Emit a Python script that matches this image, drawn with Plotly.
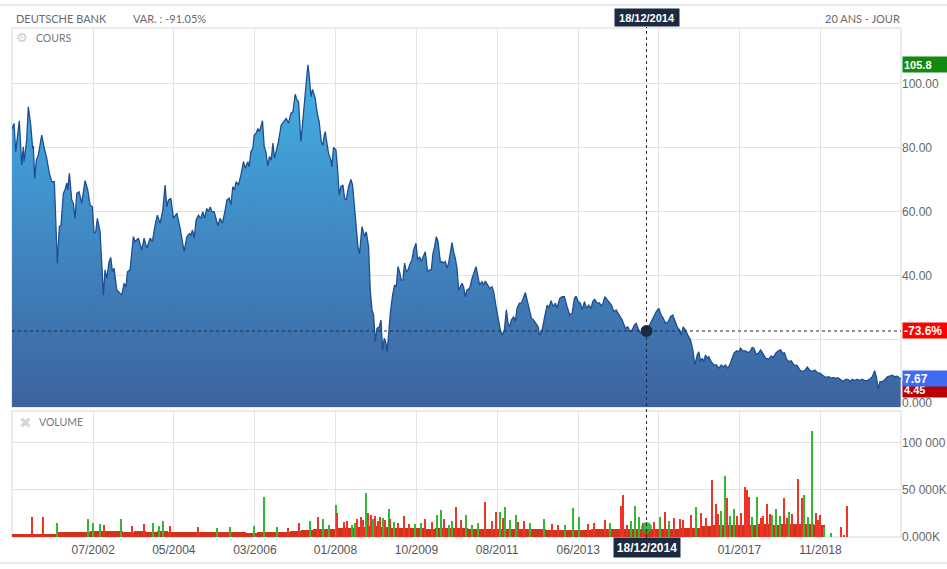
import plotly.graph_objects as go

# ---------------- DATA ----------------
# price (decimal year, value)
years = [2000.676,2000.721,2000.759,2000.795,2000.840,2000.894,2000.930,2000.946,2001.006,2001.042,
2001.096,2001.141,2001.155,2001.186,2001.222,2001.267,2001.343,2001.402,2001.456,2001.514,
2001.568,2001.627,2001.658,2001.694,2001.739,2001.777,2001.829,2001.867,2001.905,2001.928,
2001.964,2002.018,2002.054,2002.092,2002.130,2002.182,2002.242,2002.317,2002.377,2002.429,
2002.481,2002.519,2002.557,2002.593,2002.654,2002.692,2002.728,2002.766,2002.804,2002.856,
2002.894,2002.930,2002.968,2003.029,2003.103,2003.141,2003.193,2003.238,2003.267,2003.328,
2003.402,2003.440,2003.514,2003.591,2003.642,2003.703,2003.777,2003.829,2003.890,2003.941,
2004.002,2004.063,2004.114,2004.153,2004.189,2004.243,2004.301,2004.377,2004.452,2004.541,
2004.602,2004.660,2004.699,2004.728,2004.766,2004.811,2004.863,2004.917,2004.962,2004.998,
2005.051,2005.088,2005.126,2005.164,2005.216,2005.254,2005.299,2005.350,2005.402,2005.463,
2005.501,2005.553,2005.591,2005.636,2005.672,2005.710,2005.762,2005.816,2005.874,2005.912,
2005.973,2006.002,2006.040,2006.085,2006.114,2006.159,2006.198,2006.234,2006.301,2006.339,
2006.377,2006.422,2006.458,2006.497,2006.535,2006.571,2006.624,2006.660,2006.721,2006.773,
2006.834,2006.885,2006.939,2006.984,2007.036,2007.074,2007.110,2007.164,2007.222,2007.276,
2007.321,2007.350,2007.389,2007.425,2007.485,2007.537,2007.575,2007.620,2007.658,2007.688,
2007.710,2007.748,2007.784,2007.838,2007.860,2007.897,2007.950,2007.986,2008.024,2008.063,
2008.108,2008.144,2008.182,2008.234,2008.288,2008.324,2008.368,2008.400,2008.445,2008.481,
2008.535,2008.594,2008.632,2008.683,2008.721,2008.760,2008.796,2008.834,2008.872,2008.924,
2008.962,2008.998,2009.036,2009.074,2009.097,2009.133,2009.171,2009.223,2009.267,2009.306,
2009.344,2009.380,2009.418,2009.456,2009.492,2009.530,2009.568,2009.620,2009.658,2009.694,
2009.748,2009.784,2009.829,2009.867,2009.919,2009.957,2010.009,2010.054,2010.092,2010.130,
2010.166,2010.205,2010.243,2010.294,2010.333,2010.369,2010.407,2010.445,2010.481,2010.519,
2010.557,2010.593,2010.632,2010.670,2010.706,2010.744,2010.782,2010.818,2010.856,2010.894,
2010.953,2011.007,2011.042,2011.096,2011.132,2011.177,2011.231,2011.267,2011.306,2011.357,
2011.402,2011.456,2011.492,2011.546,2011.591,2011.643,2011.681,2011.733,2011.778,2011.816,
2011.852,2011.890,2011.942,2011.980,2012.018,2012.070,2012.115,2012.167,2012.205,2012.243,
2012.295,2012.340,2012.391,2012.445,2012.490,2012.526,2012.580,2012.639,2012.693,2012.729,
2012.783,2012.828,2012.879,2012.917,2012.976,2013.030,2013.081,2013.142,2013.201,2013.254,
2013.306,2013.344,2013.389,2013.441,2013.479,2013.531,2013.576,2013.627,2013.681,2013.717,
2013.762,2013.816,2013.868,2013.913,2013.951,2013.987,2014.025,2014.077,2014.138,2014.190,
2014.244,2014.302,2014.378,2014.452,2014.504,2014.549,2014.603,2014.654,2014.692,2014.738,
2014.789,2014.864,2014.925,2015.014,2015.088,2015.142,2015.200,2015.254,2015.299,2015.351,
2015.412,2015.463,2015.515,2015.560,2015.614,2015.666,2015.704,2015.749,2015.800,2015.852,
2015.913,2015.965,2016.010,2016.064,2016.100,2016.138,2016.176,2016.212,2016.250,2016.288,
2016.324,2016.378,2016.437,2016.497,2016.549,2016.603,2016.647,2016.699,2016.751,2016.796,
2016.850,2016.886,2016.947,2016.999,2017.036,2017.088,2017.149,2017.201,2017.245,2017.299,
2017.335,2017.389,2017.434,2017.486,2017.538,2017.598,2017.672,2017.726,2017.771,2017.823,
2017.884,2017.935,2017.987,2018.025,2018.070,2018.121,2018.175,2018.234,2018.310,2018.369,
2018.423,2018.475,2018.535,2018.587,2018.647,2018.706,2018.760,2018.818,2018.872,2018.946,
2019.020,2019.074,2019.119,2019.171,2019.222,2019.283,2019.344,2019.394,2019.447,2019.492,
2019.546,2019.598,2019.658,2019.711,2019.771,2019.823,2019.883,2019.935,2019.996,2020.048,
2020.086,2020.129,2020.167,2020.220,2020.271,2020.332,2020.391,2020.450,2020.496,2020.557,
2020.632]

prices = [85.7,87.5,78.6,82.8,88.3,74.5,80.2,75.5,82.3,92.7,
87.0,79.7,80.4,70.3,76.0,77.6,83.8,79.7,76.6,71.9,
69.3,69.3,58.3,43.8,55.2,55.7,65.6,66.7,68.8,66.7,
71.9,63.5,62.5,57.8,65.6,66.1,62.5,69.6,66.7,62.0,
61.4,53.1,53.6,57.8,53.6,43.8,33.8,41.7,39.0,44.3,
45.6,41.1,42.2,35.4,34.4,33.8,37.5,36.4,41.1,41.7,
52.1,50.5,51.6,47.9,51.6,48.4,51.6,50.5,55.7,58.8,
56.3,60.4,68.2,61.4,63.5,64.1,57.8,59.4,54.7,47.4,
52.0,53.1,52.6,54.2,51.6,57.3,58.8,57.8,59.9,57.8,
60.9,59.9,61.4,59.9,59.9,57.8,55.5,57.8,56.3,60.4,
63.5,64.1,62.0,67.7,66.7,69.3,68.2,71.3,75.5,73.4,
75.5,73.9,78.6,79.7,83.8,84.4,85.9,84.9,88.3,80.4,
78.6,74.2,77.1,76.0,81.3,76.6,79.2,81.8,87.0,88.0,
89.0,87.5,90.6,91.1,96.6,94.8,94.3,81.8,91.7,100.5,
105.8,102.6,95.8,98.1,95.3,90.1,88.0,81.8,80.7,83.8,
84.9,81.3,78.1,76.0,73.9,80.0,79.2,73.4,65.1,67.7,
68.2,64.1,63.5,67.7,70.0,68.2,60.4,54.7,48.9,46.7,
55.2,52.1,53.6,48.9,35.4,29.2,27.6,19.3,23.4,23.9,
26.0,16.7,20.3,18.8,16.0,21.3,28.1,33.8,37.0,36.4,
42.7,41.1,38.5,38.5,43.8,41.1,41.7,43.8,44.8,47.9,
50.0,44.8,45.8,44.3,45.8,47.4,41.1,41.7,41.7,46.9,
48.9,52.1,50.5,44.3,44.3,43.8,44.3,42.2,43.8,47.9,
50.2,47.4,45.3,42.2,35.4,36.4,37.5,36.4,33.3,35.4,
35.9,39.0,40.6,42.7,40.1,37.0,38.0,37.0,38.2,37.0,
35.9,36.4,34.9,30.2,26.6,22.9,21.3,22.9,29.2,25.0,
23.9,26.0,27.1,25.5,29.7,31.3,31.3,33.3,34.6,32.3,
29.2,26.6,26.0,25.0,23.9,21.3,22.9,27.1,30.7,29.7,
32.1,30.2,31.3,29.7,32.8,33.3,33.3,30.2,27.6,28.1,
32.8,33.5,31.8,31.3,29.2,31.8,29.7,30.7,29.7,31.8,
32.5,31.3,31.4,30.4,31.3,33.3,32.8,31.8,30.7,28.6,
29.2,27.6,26.0,23.4,23.9,22.4,22.9,24.5,25.0,23.4,
21.9,22.4,22.6,25.0,27.1,28.6,29.7,27.6,26.6,25.0,
25.5,27.1,27.6,26.0,23.9,22.9,21.3,23.9,22.9,21.3,
19.8,16.7,12.0,15.1,16.1,13.0,14.1,13.0,15.1,14.1,
14.6,13.0,12.0,12.0,10.9,12.0,11.4,12.0,10.9,12.0,
13.8,15.6,16.4,16.1,17.2,16.4,16.4,15.9,16.1,17.5,
17.2,15.3,15.6,16.7,15.6,14.1,13.8,14.8,14.3,15.6,
16.4,16.7,15.6,15.8,13.8,13.0,13.3,12.0,11.8,10.4,
9.9,10.2,11.3,10.4,9.9,10.4,9.6,9.4,8.8,8.1,
8.3,7.8,8.1,7.8,8.0,7.3,6.8,7.5,7.5,6.8,
7.5,7.1,7.5,7.1,7.5,7.1,7.1,7.5,8.3,10.2,
8.3,4.45,6.8,6.8,7.3,8.3,8.5,8.8,8.3,8.5,
7.67]

# volume: quarterly base level (K), first quarter centred at 2000.80
vol_base_start = 2000.80
vol_base_step = 0.25
vol_base = [3.5,3.0,3.5,3.0,5.5,5.5,5.0,6.0,6.5,6.0,
5.5,6.0,5.5,6.0,5.0,5.0,5.5,5.0,5.0,5.5,
5.0,4.5,5.0,5.5,5.0,6.5,7.5,8.0,8.0,10.0,
10.0,11.0,11.5,11.0,10.0,9.5,9.5,9.0,9.5,10.0,
9.5,9.0,8.5,9.0,8.5,8.0,8.0,8.0,7.5,7.0,
7.0,7.5,8.0,8.5,8.0,8.5,8.0,8.5,9.0,9.0,
9.5,10.0,12.0,13.0,13.0,12.5,13.0,13.5,13.0,13.5,
14.0,14.0,13.0]
vol_base = [v * 1000 for v in vol_base]

# volume spikes (decimal year, K volume, up day?)
spike_years = [2001.132,2001.379,2001.681,2002.391,2002.490,2002.654,2002.750,2003.126,2003.366,2003.642,
2003.851,2003.980,2004.076,2004.227,2004.863,2005.276,2005.575,2006.114,2006.324,2006.638,
2006.863,2007.110,2007.373,2007.537,2007.649,2007.784,2007.957,2007.985,2008.121,2008.310,
2008.422,2008.512,2008.632,2008.665,2008.737,2008.834,2008.946,2009.007,2009.133,2009.171,
2009.486,2009.733,2009.957,2010.220,2010.317,2010.369,2010.481,2010.654,2010.879,2011.007,
2011.306,2011.546,2011.643,2011.755,2011.995,2012.167,2012.632,2012.931,2013.268,2013.403,
2013.739,2013.987,2014.355,2014.400,2014.490,2014.661,2014.751,2015.238,2015.351,2015.537,
2015.672,2015.913,2016.041,2016.138,2016.385,2016.475,2016.603,2016.683,2016.737,2016.886,
2016.962,2017.126,2017.171,2017.223,2017.396,2017.486,2017.621,2017.749,2017.823,2018.010,
2018.121,2018.324,2018.407,2018.459,2018.639,2018.722,2018.818,2018.908,2019.059,2019.299,
2019.358,2019.425,
2008.200,2008.380,2008.560,2008.780,2008.900,2009.050,2009.250,2009.350,2009.600,2009.850,
2010.100,2010.550,2010.750,2011.150,2011.450,2011.700,2011.850,2012.050,2012.300,2012.800,
2013.100,2013.600,2014.100,2014.580,2014.850,2015.100,2015.420,2015.750,2016.250,2016.520,
2016.800,2017.050,2017.300,2017.550,2017.700,2017.920,2018.070,2018.200,2018.550,2018.780]
spike_vals = [21,21,14.5,19,14.5,13.8,12.4,19.5,11.7,13.8,
14.5,11.7,17.4,11.7,10.3,9.6,11,11.7,42.9,10.3,
9.6,15.2,17.4,20.9,18.8,12.8,34,25.5,16,12.8,
19.5,20.9,46.5,25.5,23.4,22,21,20,29.4,19.5,
22.7,14,19.5,23.4,29,19,12.8,31.6,23.4,13,
37,26.6,27,31.6,23.4,17,19.5,13,31.2,21.6,
15,18.4,33,44.7,13,33,21.6,21,26.6,20,
19.5,23,31.6,25,60.6,35,28,64.9,42,30,
22,53.5,50,43,43,20,35,23,30,41.5,
27,61.4,42,44.7,112.8,25,23,11,4,11,
2,33,
17,15,18,19,17,18,16,15,14,15,
16,17,18,15,17,20,18,16,15,14,
13,14,15,17,15,16,17,18,20,24,
22,25,21,22,24,22,20,24,21,18]
spike_vals = [v * 1000 for v in spike_vals]
spike_up = [0,0,1,1,1,1,0,1,0,0,
1,1,1,0,0,1,1,1,1,1,
0,0,1,0,1,1,1,0,0,1,
0,0,1,0,0,0,0,1,1,0,
0,1,0,1,1,0,1,0,1,1,
0,0,1,1,1,0,1,0,1,1,
0,0,0,0,0,1,1,1,0,0,
0,0,1,0,0,0,1,1,0,1,
0,0,0,0,1,0,0,1,1,0,
1,0,0,1,1,0,0,1,1,0,
0,0,
0,1,0,1,0,0,1,0,0,1,
0,1,0,1,0,0,1,0,1,0,
1,0,1,1,0,0,1,0,0,0,
1,0,1,0,0,1,0,0,1,0]

x_tickvals = [2002.50,2004.31,2006.13,2007.94,2009.76,2011.57,2013.39,2015.20,2017.01,2018.83]
x_ticktext = ["07/2002","05/2004","03/2006","01/2008","10/2009","08/2011","06/2013","","01/2017","11/2018"]

cross_year = 2014.925
cross_date = "18/12/2014"
cross_price = 22.6
cross_vol = 10000
cross_pct = "-73.6%"
max_price, min_price, last_price = 105.8, 4.45, 7.67
title_name = "DEUTSCHE BANK"
title_var = "VAR. : -91.05%"
title_period = "20 ANS - JOUR"

# ---------------- LAYOUT HELPERS ----------------
W, H = 947, 569
def PX(p): return p / W
def PY(p): return 1 - p / H

X0, X1 = PX(12), PX(901)
P_TOP, P_BOT = PY(28), PY(407)
V_TOP, V_BOT = PY(411), PY(537)
P_RANGE = [-1.16, 117.3]
V_RANGE = [0, 134000]
X_RANGE = [2000.676, 2020.64]

GRID = "#e2e2e2"
NAVY = "#1b2a40"
FONT = "Liberation Sans, Arial, sans-serif"
HFONT = "Lato, Open Sans, sans-serif"

fig = go.Figure()

# baseline for area fill
fig.add_trace(go.Scatter(x=[years[0], years[-1]], y=[P_RANGE[0], P_RANGE[0]],
                         mode="lines", line=dict(width=0), hoverinfo="skip",
                         xaxis="x", yaxis="y", showlegend=False))
fig.add_trace(go.Scatter(x=years, y=prices, mode="lines", fill="tonexty",
                         line=dict(color="#1d4e92", width=1.3),
                         fillgradient=dict(type="vertical", start=P_RANGE[0], stop=106,
                                           colorscale=[[0, "rgba(47,87,152,0.93)"],
                                                       [0.5, "rgba(50,128,190,0.93)"],
                                                       [1, "rgba(53,172,228,0.93)"]]),
                         xaxis="x", yaxis="y", showlegend=False, hoverinfo="skip"))
fig.add_trace(go.Scatter(x=[cross_year], y=[cross_price], mode="markers",
                         marker=dict(size=12, color=NAVY),
                         xaxis="x", yaxis="y", showlegend=False, hoverinfo="skip"))

# volume
base_x = [vol_base_start + i * vol_base_step for i in range(len(vol_base))]
fig.add_trace(go.Bar(x=base_x, y=vol_base, width=vol_base_step,
                     marker=dict(color="#d2321b", line=dict(width=0)),
                     xaxis="x2", yaxis="y2", showlegend=False, hoverinfo="skip"))
fig.add_trace(go.Bar(x=spike_years, y=spike_vals, width=0.045,
                     marker=dict(color=["#34b834" if u else "#ee3328" for u in spike_up],
                                 line=dict(width=0)),
                     xaxis="x2", yaxis="y2", showlegend=False, hoverinfo="skip"))
fig.add_trace(go.Scatter(x=[cross_year], y=[cross_vol], mode="markers",
                         marker=dict(size=11, color="rgba(40,170,40,0.85)"),
                         xaxis="x2", yaxis="y2", showlegend=False, hoverinfo="skip"))

axis_common = dict(range=X_RANGE, domain=[X0, X1], tickvals=x_tickvals,
                   showgrid=True, gridcolor=GRID, gridwidth=1, zeroline=False,
                   showline=False, ticks="", fixedrange=True, automargin=False)

fig.update_layout(
    width=W, height=H, margin=dict(l=0, r=0, t=0, b=0, autoexpand=False),
    paper_bgcolor="white", plot_bgcolor="white", showlegend=False,
    barmode="overlay", bargap=0, hovermode=False,
    xaxis=dict(**axis_common, anchor="y", showticklabels=False),
    xaxis2=dict(**axis_common, anchor="y2", matches="x", ticktext=x_ticktext,
                showticklabels=True, ticklabelstandoff=4,
                tickfont=dict(family=FONT, size=12, color="#555")),
    yaxis=dict(domain=[P_BOT, P_TOP], range=P_RANGE, side="right", anchor="x",
               tickvals=[0, 20, 40, 60, 80, 100], automargin=False, fixedrange=True,
               ticktext=["0.000", "", "40.00", "60.00", "80.00", "100.00"],
               showgrid=True, gridcolor=GRID, zeroline=False, ticks="",
               tickfont=dict(family=FONT, size=12, color="#666")),
    yaxis2=dict(domain=[V_BOT, V_TOP], range=V_RANGE, side="right", anchor="x2",
                tickvals=[0, 50000, 100000], ticktext=["0.000K", "50 000K", "100 000"],
                showgrid=True, gridcolor=GRID, zeroline=False, ticks="", automargin=False,
                fixedrange=True, tickfont=dict(family=FONT, size=12, color="#666")),
)

shapes = [
    dict(type="line", xref="paper", yref="paper", x0=0, x1=1, y0=PY(5), y1=PY(5),
         line=dict(color="#ccd5e0", width=1)),
    dict(type="line", xref="paper", yref="paper", x0=0, x1=1, y0=PY(563), y1=PY(563),
         line=dict(color="#ccd5e0", width=1)),
    dict(type="rect", xref="paper", yref="paper", x0=X0, x1=X1, y0=P_BOT, y1=P_TOP,
         line=dict(color="#d8d8d8", width=1), layer="below"),
    dict(type="rect", xref="paper", yref="paper", x0=X0, x1=X1, y0=V_BOT, y1=V_TOP,
         line=dict(color="#d8d8d8", width=1), layer="below"),
    dict(type="line", xref="x", yref="paper", x0=cross_year, x1=cross_year,
         y0=PY(538), y1=PY(27), line=dict(color=NAVY, width=1, dash="3px,3px")),
    dict(type="line", xref="paper", yref="y", x0=X0, x1=X1, y0=cross_price, y1=cross_price,
         line=dict(color=NAVY, width=1, dash="3px,3px")),
]
fig.update_layout(shapes=shapes)

def box(text, y, color, size=11, w=42):
    return dict(text="<b>%s</b>" % text, x=PX(902), xref="paper", y=y, yref="y",
                xanchor="left", yanchor="middle", showarrow=False, align="left",
                bgcolor=color, font=dict(family=FONT, size=size, color="white"),
                width=w, height=13, borderpad=1)

ann = [
    dict(text=title_name, x=PX(14), y=PY(19), xref="paper", yref="paper", xanchor="left",
         yanchor="middle", showarrow=False, font=dict(family=HFONT, size=11, color="#6a6a6a")),
    dict(text=title_var, x=PX(131), y=PY(19), xref="paper", yref="paper", xanchor="left",
         yanchor="middle", showarrow=False, font=dict(family=HFONT, size=11, color="#6a6a6a")),
    dict(text=title_period, x=PX(902), y=PY(19), xref="paper", yref="paper", xanchor="right",
         yanchor="middle", showarrow=False, font=dict(family=HFONT, size=11, color="#6a6a6a")),
    dict(text="⚙", x=PX(22), y=PY(38), xref="paper", yref="paper", xanchor="center",
         yanchor="middle", showarrow=False, font=dict(family="DejaVu Sans", size=13, color="#c9cdd3")),
    dict(text="COURS", x=PX(34), y=PY(38), xref="paper", yref="paper", xanchor="left",
         yanchor="middle", showarrow=False, font=dict(family=HFONT, size=10.5, color="#777")),
    dict(text="✖", x=PX(25), y=PY(423), xref="paper", yref="paper", xanchor="center",
         yanchor="middle", showarrow=False, font=dict(family="DejaVu Sans", size=15, color="#d3d7dc")),
    dict(text="VOLUME", x=PX(37), y=PY(422), xref="paper", yref="paper", xanchor="left",
         yanchor="middle", showarrow=False, font=dict(family=HFONT, size=10.5, color="#777")),
    dict(text="<b>%s</b>" % cross_date, x=cross_year, xref="x", y=PY(18), yref="paper",
         xanchor="center", yanchor="middle", showarrow=False, bgcolor=NAVY,
         font=dict(family=FONT, size=11, color="white"), width=62, height=15, borderpad=1),
    dict(text="<b>%s</b>" % cross_date, x=cross_year, xref="x", y=PY(547.5), yref="paper",
         xanchor="center", yanchor="middle", showarrow=False, bgcolor=NAVY,
         font=dict(family=FONT, size=12, color="white"), width=64, height=17, borderpad=1),
    box("%.1f" % max_price, max_price, "#128a12"),
    box(cross_pct, cross_price, "#ff0000", size=12, w=42),
    box("%.2f" % min_price, min_price, "#b80000"),
    box("%.2f" % last_price, last_price, "#3d6cf2", size=12),
]
fig.update_layout(annotations=ann)

fig.write_html("out.html", config={"displayModeBar": False, "staticPlot": True},
               post_script="document.body.style.margin='0px';document.body.style.padding='0px';"
                           "document.documentElement.style.margin='0px';")
